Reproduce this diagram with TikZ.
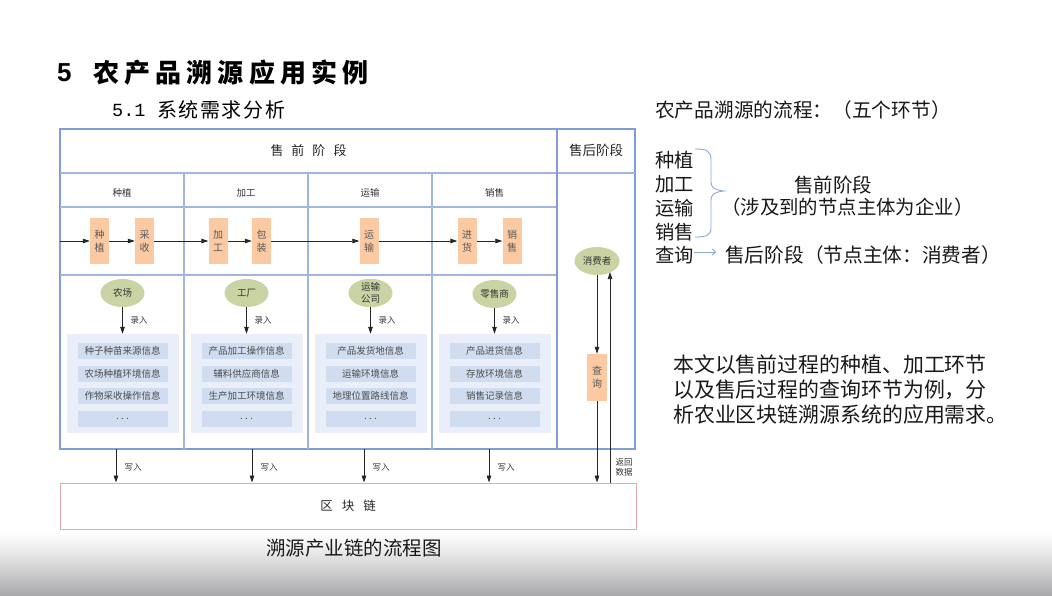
\documentclass[tikz,border=0pt]{standalone}
\usepackage{fontspec}
\setmainfont{Noto Sans CJK SC}
\newfontfamily\monof{Liberation Mono}
\newfontfamily\lsans{Liberation Sans}
\usetikzlibrary{arrows.meta,shapes.geometric}

\definecolor{frame}{HTML}{7F9ED8}
\definecolor{gridc}{HTML}{A0B5E2}
\definecolor{proc}{HTML}{FBC9A2}
\definecolor{ell}{HTML}{C9D3A3}
\definecolor{panel}{HTML}{E9EEF8}
\definecolor{item}{HTML}{D0DCF0}
\definecolor{chainc}{HTML}{E2A9AB}
\definecolor{txt}{HTML}{333333}
\definecolor{brc}{HTML}{8FA8D8}
\definecolor{bottomgray}{RGB}{168,168,170}

\begin{document}
\begin{tikzpicture}[x=1pt,y=-1pt,
  procbox/.style={fill=proc, minimum width=19pt, minimum height=46pt, inner sep=0pt, align=center, text=black!65, font=\fontsize{10}{13}\selectfont},
  ent/.style={ellipse, fill=ell, minimum width=44pt, minimum height=28pt, inner sep=0pt, align=center, font=\fontsize{9.5}{11.5}\selectfont, text=txt},
  panelbox/.style={fill=panel, minimum width=112pt, minimum height=99pt, inner sep=0pt},
  itembox/.style={fill=item, minimum width=90pt, minimum height=16pt, inner sep=0pt, font=\fontsize{9.5}{10}\selectfont, text=black!70},
  arr/.style={draw=black!85, line width=0.75pt, -{Triangle[length=7pt,width=4.5pt]}},
  lbl/.style={font=\fontsize{8.5}{10.5}\selectfont, text=txt, inner sep=0pt, align=center},
  hdr/.style={font=\fontsize{9.5}{10}\selectfont, text=txt, inner sep=0pt},
  rtxt/.style={anchor=west, inner sep=0pt, text=black!90, font=\fontsize{19.7}{19.7}\selectfont},
]
\useasboundingbox (0,0) rectangle (1052,595);
\fill[white] (0,0) rectangle (1052,595);
\foreach \i in {0,...,65}{
  \pgfmathsetmacro{\pc}{100*(1-(\i/65)^1.25)}
  \fill[white!\pc!bottomgray] (0,530+\i) rectangle (1052,531.2+\i);
}

% titles
\node[anchor=west, inner sep=0pt, font=\lsans\bfseries\fontsize{26}{26}\selectfont] (tnum) at (57,73) {5};
\node[anchor=west, inner sep=0pt, font=\bfseries\fontsize{26}{26}\selectfont\addfontfeature{LetterSpace=20}] (title) at (93,73) {农产品溯源应用实例};
\node[anchor=west, inner sep=0pt, font=\monof\fontsize{18.5}{18.5}\selectfont] (snum) at (112,110) {5.1};
\node[anchor=west, inner sep=0pt, font=\fontsize{20}{20}\selectfont\addfontfeature{LetterSpace=8}] (stitle) at (157,110) {系统需求分析};

% grid
\draw[frame, line width=1.2pt] (60,129) rectangle (635,449);
\draw[gridc, line width=1.2pt] (60,173) -- (635,173) (60,207) -- (557,207) (60,275) -- (557,275)
  (184,173) -- (184,449) (308,173) -- (308,449) (432,173) -- (432,449);
\draw[frame, line width=1.2pt] (557,129) -- (557,449);

\node[font=\fontsize{13}{13}\selectfont, text=black!85] (pre) at (308.5,151) {售\hspace{8pt}前\hspace{8pt}阶\hspace{8pt}段};
\node[font=\fontsize{13.5}{13.5}\selectfont, text=black!85] (post) at (596,150) {售后阶段};

\node[hdr] (h1) at (122,193) {种植};
\node[hdr] (h2) at (246,193) {加工};
\node[hdr] (h3) at (370,193) {运输};
\node[hdr] (h4) at (494.5,193) {销售};

% process row
\coordinate (pin) at (60,241);
\node[procbox] (p1) at (99.5,241) {种\\植};
\node[procbox] (p2) at (144.5,241) {采\\收};
\node[procbox] (p3) at (218,241) {加\\工};
\node[procbox] (p4) at (261.5,241) {包\\装};
\node[procbox] (p5) at (369,241) {运\\输};
\node[procbox] (p6) at (467,241) {进\\货};
\node[procbox] (p7) at (512,241) {销\\售};
\draw[arr] (pin) -- (p1);
\draw[arr] (p1) -- (p2);
\draw[arr] (p2) -- (p3);
\draw[arr] (p3) -- (p4);
\draw[arr] (p4) -- (p5);
\draw[arr] (p5) -- (p6);
\draw[arr] (p6) -- (p7);

% entities and panels
\node[ent] (e1) at (122.5,293) {农场};
\node[ent] (e2) at (246.5,293) {工厂};
\node[ent] (e3) at (370.5,293) {运输\\公司};
\node[ent] (e4) at (494.5,294) {零售商};

\node[panelbox] (pan1) at (122.5,383.5) {};
\node[panelbox] (pan2) at (246.5,383.5) {};
\node[panelbox] (pan3) at (370.5,383.5) {};
\node[panelbox] (pan4) at (494.5,383.5) {};

\draw[arr] (e1) -- (pan1);
\draw[arr] (e2) -- (pan2);
\draw[arr] (e3) -- (pan3);
\draw[arr] (e4) -- (pan4);
\node[lbl] (l1) at (139,320) {录入};
\node[lbl] (l2) at (263,320) {录入};
\node[lbl] (l3) at (387,320) {录入};
\node[lbl] (l4) at (511,320) {录入};

\node[itembox] (i11) at (122.5,351) {种子种苗来源信息};
\node[itembox] (i12) at (122.5,373.5) {农场种植环境信息};
\node[itembox] (i13) at (122.5,396) {作物采收操作信息};
\node[itembox] (i14) at (122.5,419) {.\hspace{2.5pt}.\hspace{2.5pt}.};
\node[itembox] (i21) at (246.5,351) {产品加工操作信息};
\node[itembox] (i22) at (246.5,373.5) {辅料供应商信息};
\node[itembox] (i23) at (246.5,396) {生产加工环境信息};
\node[itembox] (i24) at (246.5,419) {.\hspace{2.5pt}.\hspace{2.5pt}.};
\node[itembox] (i31) at (370.5,351) {产品发货地信息};
\node[itembox] (i32) at (370.5,373.5) {运输环境信息};
\node[itembox] (i33) at (370.5,396) {地理位置路线信息};
\node[itembox] (i34) at (370.5,419) {.\hspace{2.5pt}.\hspace{2.5pt}.};
\node[itembox] (i41) at (494.5,351) {产品进货信息};
\node[itembox] (i42) at (494.5,373.5) {存放环境信息};
\node[itembox] (i43) at (494.5,396) {销售记录信息};
\node[itembox] (i44) at (494.5,419) {.\hspace{2.5pt}.\hspace{2.5pt}.};

% blockchain
\node[draw=chainc, fill=white, line width=1pt, minimum width=576pt, minimum height=46pt, inner sep=0pt,
  font=\fontsize{12.5}{12.5}\selectfont, text=black!85] (chain) at (348,506) {区\hspace{9pt}块\hspace{9pt}链};

% after-sale
\node[ent, minimum width=45pt] (cons) at (597,261) {消费者};
\node[procbox, minimum width=20pt, minimum height=47pt] (q) at (597,377.5) {查\\询};
\draw[arr] (cons) -- (q);
\draw[arr] (q) -- (q |- chain.north);
\coordinate (rt) at (610,272);
\draw[arr] (chain.north -| rt) -- (rt);
\node[lbl] (ret) at (624,467.5) {返回\\数据};

% write arrows
\coordinate (w1) at (116,449);
\coordinate (w2) at (252,449);
\coordinate (w3) at (364,449);
\coordinate (w4) at (489,449);
\draw[arr] (w1) -- (w1 |- chain.north);
\draw[arr] (w2) -- (w2 |- chain.north);
\draw[arr] (w3) -- (w3 |- chain.north);
\draw[arr] (w4) -- (w4 |- chain.north);
\node[lbl] (x1) at (133,467) {写入};
\node[lbl] (x2) at (269,467) {写入};
\node[lbl] (x3) at (381,467) {写入};
\node[lbl] (x4) at (506,467) {写入};

\node[inner sep=0pt, font=\fontsize{19.5}{19.5}\selectfont, text=black!90] (cap) at (354,548) {溯源产业链的流程图};

% right side text
\node[rtxt] (r0) at (655,110) {农产品溯源的流程：（五个环节）};
\node[rtxt, font=\fontsize{19.3}{19.3}\selectfont] (z1) at (655,160) {种植};
\node[rtxt, font=\fontsize{19.3}{19.3}\selectfont] (z2) at (655,184) {加工};
\node[rtxt, font=\fontsize{19.3}{19.3}\selectfont] (z3) at (655,208) {运输};
\node[rtxt, font=\fontsize{19.3}{19.3}\selectfont] (z4) at (655,232) {销售};
\node[rtxt, font=\fontsize{19.3}{19.3}\selectfont] (z5) at (655,255) {查询};
\draw[brc, line width=0.9pt] (695,149) .. controls (707,149) and (711,151) .. (711,160) -- (711,182)
  .. controls (711,188) and (715,190) .. (724,191) .. controls (715,192) and (711,194) .. (711,200)
  -- (711,228) .. controls (711,235) and (707,237) .. (695,237);
\node[inner sep=0pt, font=\fontsize{19.5}{19.5}\selectfont, text=black!90] (pre2) at (833,185) {售前阶段};
\node[rtxt, font=\fontsize{19.4}{19.4}\selectfont] (pre3) at (721,207) {（涉及到的节点主体为企业）};
\coordinate (ra) at (716,252);
\draw[brc, line width=0.9pt, -{Straight Barb[length=3pt,width=6pt]}] (z5.east |- ra) -- (ra);
\node[rtxt] (post2) at (725,255) {售后阶段（节点主体：消费者）};

\node[anchor=west, inner sep=0pt, align=left, text=black!90, font=\fontsize{20.9}{25}\selectfont] (para) at (673,390)
  {本文以售前过程的种植、加工环节\\以及售后过程的查询环节为例，分\\析农业区块链溯源系统的应用需求。};
\end{tikzpicture}
\end{document}
